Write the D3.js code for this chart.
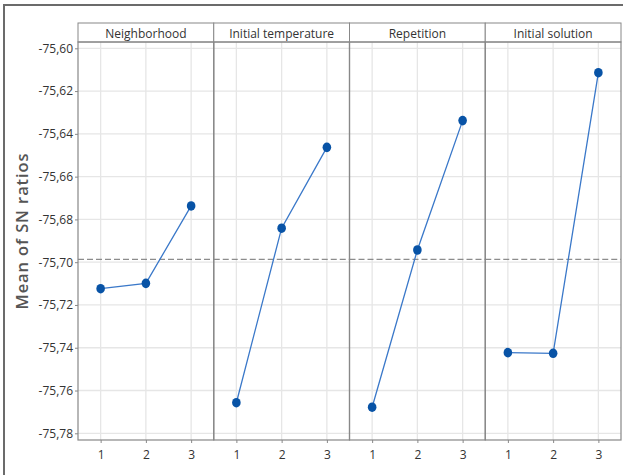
<!DOCTYPE html>
<html>
<head>
<meta charset="utf-8">
<script src="https://cdn.jsdelivr.net/npm/d3@7"></script>
<style>
  body { margin: 0; background: #fff; }
  svg text { font-family: "Open Sans", sans-serif; }
</style>
</head>
<body>
<div id="chart"></div>
<script>
// factors and their level means (SN ratios)
var factors = ["Neighborhood", "Initial temperature", "Repetition", "Initial solution"];
var levels = ["1", "2", "3"];
var neighborhood = [-75.7124, -75.7099, -75.6737];
var initTemp = [-75.7657, -75.6841, -75.6463];
var repetition = [-75.7678, -75.6943, -75.6338];
var initSolution = [-75.7423, -75.7426, -75.6114];
var grandMean = -75.6987;
var yTicks = [-75.60, -75.62, -75.64, -75.66, -75.68, -75.70, -75.72, -75.74, -75.76, -75.78];

var series = [neighborhood, initTemp, repetition, initSolution];

var width = 633, height = 475;
var plotL = 78, plotR = 621, plotT = 42, plotB = 440, stripT = 23;
var pw = (plotR - plotL) / factors.length;

var svg = d3.select("#chart").append("svg")
    .attr("width", width)
    .attr("height", height);

// outer frame (only top and left visible)
svg.append("line").attr("x1", 4).attr("x2", 623).attr("y1", 5).attr("y2", 5)
    .attr("stroke", "#6b6b6b").attr("stroke-width", 2);
svg.append("line").attr("x1", 4).attr("x2", 4).attr("y1", 4).attr("y2", 475)
    .attr("stroke", "#6b6b6b").attr("stroke-width", 2);

var y = d3.scaleLinear()
    .domain([-75.60, -75.78])
    .range([48.3, 433.3]);

var fmt = function (d) { return d3.format(".2f")(d).replace(".", ",").replace("−", "-"); };

// horizontal grid
svg.append("g").selectAll("line")
    .data(yTicks).enter().append("line")
    .attr("x1", plotL).attr("x2", plotR)
    .attr("y1", function (d) { return y(d); })
    .attr("y2", function (d) { return y(d); })
    .attr("stroke", "#e6e6e6").attr("stroke-width", 1.3);

// y axis
var yAxis = svg.append("g")
    .attr("transform", "translate(" + plotL + ",0)")
    .call(d3.axisLeft(y).tickValues(yTicks).tickFormat(fmt).tickSize(3).tickPadding(2));
yAxis.select(".domain").remove();
yAxis.selectAll(".tick line").attr("stroke", "#888");
yAxis.selectAll("text").attr("font-size", 12).attr("fill", "#333");

svg.append("text")
    .attr("transform", "translate(28,231) rotate(-90)")
    .attr("text-anchor", "middle")
    .attr("font-size", 16.5)
    .attr("font-weight", 600)
    .attr("letter-spacing", 0.9)
    .attr("fill", "#555")
    .text("Mean of SN ratios");

var line = d3.line()
    .x(function (d) { return d.x; })
    .y(function (d) { return y(d.v); });

factors.forEach(function (f, k) {
    var x0 = plotL + k * pw;
    var x = d3.scalePoint().domain(levels).range([x0 + pw / 6, x0 + pw * 5 / 6]);
    var g = svg.append("g");

    // vertical grid
    g.selectAll("line.vg").data(levels).enter().append("line")
        .attr("x1", function (d) { return x(d); })
        .attr("x2", function (d) { return x(d); })
        .attr("y1", plotT).attr("y2", plotB)
        .attr("stroke", "#e6e6e6").attr("stroke-width", 1.3);

    // x axis
    var xa = g.append("g")
        .attr("transform", "translate(0," + plotB + ")")
        .call(d3.axisBottom(x).tickSize(3).tickPadding(7));
    xa.select(".domain").remove();
    xa.selectAll(".tick line").attr("stroke", "#888");
    xa.selectAll("text").attr("font-size", 12).attr("fill", "#333");

    // strip
    g.append("rect")
        .attr("x", x0).attr("y", stripT)
        .attr("width", pw).attr("height", plotT - stripT)
        .attr("fill", "#fff").attr("stroke", "#888").attr("stroke-width", 1);
    g.append("text")
        .attr("x", x0 + pw / 2).attr("y", stripT + 14.5)
        .attr("text-anchor", "middle")
        .attr("font-size", 12)
        .attr("fill", "#333")
        .text(f);

    // reference line
    g.append("line")
        .attr("x1", x0).attr("x2", x0 + pw)
        .attr("y1", y(grandMean)).attr("y2", y(grandMean))
        .attr("stroke", "#8c8c8c").attr("stroke-width", 1.4)
        .attr("stroke-dasharray", "6,3");

    var pts = series[k].map(function (v, i) { return { x: x(levels[i]), v: v }; });
    g.append("path")
        .datum(pts)
        .attr("d", line)
        .attr("fill", "none")
        .attr("stroke", "#3a78c9").attr("stroke-width", 1.3);
    g.selectAll("ellipse").data(pts).enter().append("ellipse")
        .attr("cx", function (d) { return d.x; })
        .attr("cy", function (d) { return y(d.v); })
        .attr("rx", 4.3).attr("ry", 4.8)
        .attr("fill", "#0853a6");

    // panel border
    g.append("rect")
        .attr("x", x0).attr("y", plotT)
        .attr("width", pw).attr("height", plotB - plotT)
        .attr("fill", "none").attr("stroke", "#888").attr("stroke-width", 1.2);
});
</script>
</body>
</html>
